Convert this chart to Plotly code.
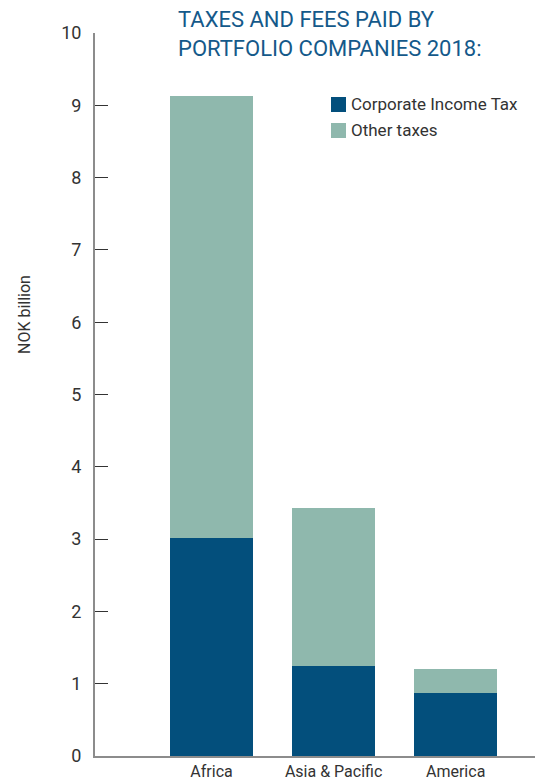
import plotly.graph_objects as go

regions = ["Africa", "Asia & Pacific", "America"]
corporate_income_tax = [3.02, 1.24, 0.87]
other_taxes = [6.11, 2.19, 0.33]
y_ticks = [0, 1, 2, 3, 4, 5, 6, 7, 8, 9, 10]
series_names = ["Corporate Income Tax", "Other taxes"]
title_text = "TAXES AND FEES PAID BY<br>PORTFOLIO COMPANIES 2018:"
y_title = "NOK billion"

C_DARK = "#034f7c"
C_LIGHT = "#8fb8ad"
C_TITLE = "#14598a"
FONT = "Roboto"

fig = go.Figure()
fig.add_trace(go.Bar(x=regions, y=corporate_income_tax, name=series_names[0],
                     marker=dict(color=C_DARK, line=dict(width=0)), width=0.68, showlegend=False))
fig.add_trace(go.Bar(x=regions, y=other_taxes, name=series_names[1],
                     marker=dict(color=C_LIGHT, line=dict(width=0)), width=0.68, showlegend=False))

W, H = 535, 783
L, R, T, B = 95, 0, 33, 27
pw, ph = W - L - R, H - T - B

def px(x):
    return (x - L) / pw

def py(y):
    return (H - B - y) / ph

shapes = []
annotations = []
# legend
for i, (name, col) in enumerate(zip(series_names, [C_DARK, C_LIGHT])):
    top = 97 + 26 * i
    shapes.append(dict(type="rect", xref="paper", yref="paper",
                       x0=px(331), x1=px(346), y0=py(top + 15), y1=py(top),
                       fillcolor=col, line=dict(width=0)))
    annotations.append(dict(text=name, xref="paper", yref="paper", x=px(349), y=py(top + 7.5),
                            xanchor="left", yanchor="middle", showarrow=False,
                            font=dict(family=FONT, size=17, color="#333333")))

annotations.append(dict(text=title_text, xref="paper", yref="paper", x=px(176), y=py(5),
                        xanchor="left", yanchor="top", align="left", showarrow=False,
                        font=dict(family=FONT, size=22, color=C_TITLE)))
annotations.append(dict(text=y_title, xref="paper", yref="paper", x=px(25), y=py(315),
                        xanchor="center", yanchor="middle", textangle=-90, showarrow=False,
                        font=dict(family=FONT, size=16, color="#333333")))

fig.update_layout(
    barmode="stack",
    width=W, height=H,
    margin=dict(l=L, r=R, t=T, b=B, pad=0, autoexpand=False),
    paper_bgcolor="white", plot_bgcolor="white",
    font=dict(family=FONT, color="#333333"),
    shapes=shapes, annotations=annotations,
    bargap=0.32,
)
fig.update_xaxes(type="category", range=[-0.955, 2.65], showgrid=False, zeroline=False,
                 showline=True, linecolor="#8c8c8c", linewidth=2, ticks="", automargin=False,
                 tickfont=dict(family=FONT, size=16, color="#333333"), ticklabelstandoff=0)
fig.update_yaxes(range=[0, 10], tickvals=y_ticks, showgrid=False, zeroline=False,
                 showline=True, linecolor="#8c8c8c", linewidth=2, automargin=False,
                 ticks="inside", ticklen=13, tickcolor="#333333", tickwidth=1,
                 tickfont=dict(family=FONT, size=18, color="#333333"), ticklabelstandoff=8)

fig.write_html("out.html")
